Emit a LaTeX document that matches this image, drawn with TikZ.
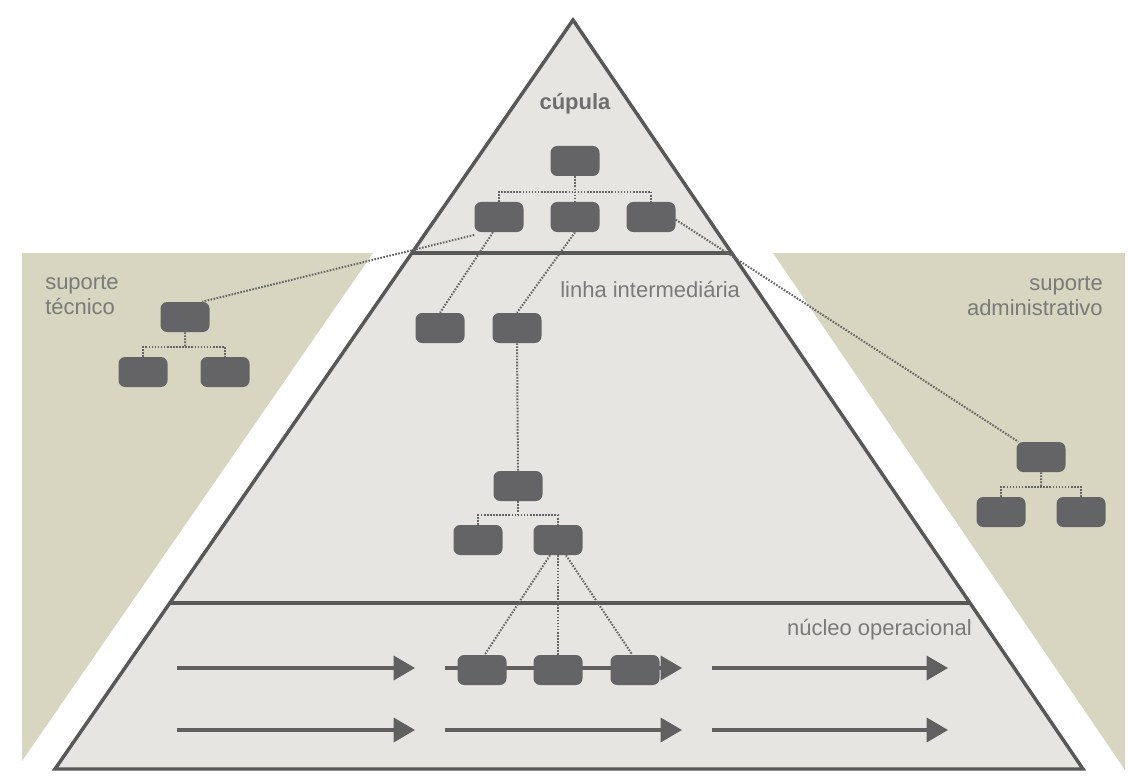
\documentclass[tikz,border=0pt]{standalone}
\usepackage{fontspec}
\setmainfont{Liberation Sans}
\usetikzlibrary{arrows.meta,calc}
\definecolor{beige}{RGB}{216,213,193}
\definecolor{pyrfill}{RGB}{231,229,226}
\definecolor{edge}{RGB}{88,88,88}
\definecolor{boxfill}{RGB}{100,100,102}
\definecolor{linkgray}{RGB}{100,100,100}
\definecolor{label}{RGB}{122,122,122}
\tikzset{
  unit/.style={draw=none, fill=boxfill, rounded corners=5pt, inner sep=0pt,
    minimum width=36.75pt, minimum height=22.5pt},
  link/.style={draw=linkgray, line width=1.5pt, dash pattern=on 1.2pt off 1.1pt},
  frame/.style={draw=edge, line width=2.6pt},
  flow/.style={draw=edge!95, line width=2.6pt, -{Triangle[length=16pt,width=18pt]}},
  caption/.style={text=label, font=\fontsize{16.5}{19}\selectfont, inner sep=0pt}
}
\begin{document}
\begin{tikzpicture}[x=0.75pt,y=-0.75pt]
\useasboundingbox (0,0) rectangle (1128,781);
\fill[white] (0,0) rectangle (1128,781);

% support areas on both sides
\fill[beige] (22,253) -- (373,253) -- (22,761) -- cycle;
\fill[beige] (773,253) -- (1125,253) -- (1125,770) -- cycle;

% pyramid and its strata
\fill[pyrfill] (573,20) -- (1083,769) -- (55,769) -- cycle;
\draw[frame, line join=miter] (573,20) -- (1083,769) -- (55,769) -- cycle;
\draw[frame] (412,253) -- (731,253);
\draw[frame] (170,603) -- (969,603);

% labels
\node[caption, font=\fontsize{16.5}{19}\selectfont\bfseries, text=label!90!black] (lcup) at (575,104) {cúpula};
\node[caption, anchor=west] (lmid) at (560,290) {linha intermediária};
\node[caption, anchor=east] (lop) at (972,630) {núcleo operacional};
\node[caption, anchor=north west, align=left] (ltec) at (45,275) {suporte\\técnico};
\node[caption, anchor=north east, align=right] (ladm) at (1103,276) {suporte\\administrativo};

% operating-core flow coordinates
\coordinate (f1s) at (177,668); \coordinate (f1e) at (415,668);
\coordinate (f2s) at (445,668); \coordinate (f2e) at (682,668);
\coordinate (f3s) at (712,668); \coordinate (f3e) at (948,668);
\coordinate (g1s) at (177,730); \coordinate (g1e) at (415,730);
\coordinate (g2s) at (445,730); \coordinate (g2e) at (682,730);
\coordinate (g3s) at (712,730); \coordinate (g3e) at (948,730);
\draw[flow] (f1s) -- (f1e);
\draw[flow] (f2s) -- (f2e);
\draw[flow] (f3s) -- (f3e);
\draw[flow] (g1s) -- (g1e);
\draw[flow] (g2s) -- (g2e);
\draw[flow] (g3s) -- (g3e);

% units
\node[unit] (c0) at (575,161) {};
\node[unit] (c1) at (499,217) {};
\node[unit] (c2) at (575,217) {};
\node[unit] (c3) at (651,217) {};
\node[unit] (t0) at (185,317) {};
\node[unit] (t1) at (143,372) {};
\node[unit] (t2) at (225,372) {};
\node[unit] (a0) at (1041,457) {};
\node[unit] (a1) at (1001,512) {};
\node[unit] (a2) at (1081,512) {};
\node[unit] (m1) at (440,328) {};
\node[unit] (m2) at (517,328) {};
\node[unit] (m3) at (518,486) {};
\node[unit] (m4) at (478,540) {};
\node[unit] (m5) at (558,540) {};
\node[unit] (o1) at (482,670) {};
\node[unit] (o2) at (558,670) {};
\node[unit] (o3) at (635,670) {};

% hierarchy links
\coordinate (cbar) at ($(c0.south)!0.6!(c2.north)$);
\draw[link] (c0.south) -- (c2.north);
\draw[link] (c1.north) -- (c1.north |- cbar) -- (c3.north |- cbar) -- (c3.north);

\coordinate (tbar) at ($(t0.south)!0.6!(t0.south |- t1.north)$);
\draw[link] (t0.south) -- (tbar);
\draw[link] (t1.north) -- (t1.north |- tbar) -- (t2.north |- tbar) -- (t2.north);

\coordinate (abar) at ($(a0.south)!0.6!(a0.south |- a1.north)$);
\draw[link] (a0.south) -- (abar);
\draw[link] (a1.north) -- (a1.north |- abar) -- (a2.north |- abar) -- (a2.north);

\coordinate (mbar) at ($(m3.south)!0.6!(m3.south |- m4.north)$);
\draw[link] (m3.south) -- (mbar);
\draw[link] (m4.north) -- (m4.north |- mbar) -- (m5.north |- mbar) -- (m5.north);

\draw[link] ([xshift=-4.5pt]c1.south) -- (m1.north);
\draw[link] (c2.south) -- (m2.north);
\draw[link] (m2.south) -- (m3.north);
\draw[link] ([yshift=-2pt]c1.south west) -- ([xshift=13pt]t0.north);
\draw[link] ([yshift=-2pt]c3.east) -- ([xshift=-17pt]a0.north);
\draw[link] ([xshift=-6pt]m5.south) -- ([xshift=2pt]o1.north);
\draw[link] (m5.south) -- (o2.north);
\draw[link] ([xshift=6pt]m5.south) -- ([xshift=-2pt]o3.north);
\end{tikzpicture}
\end{document}
